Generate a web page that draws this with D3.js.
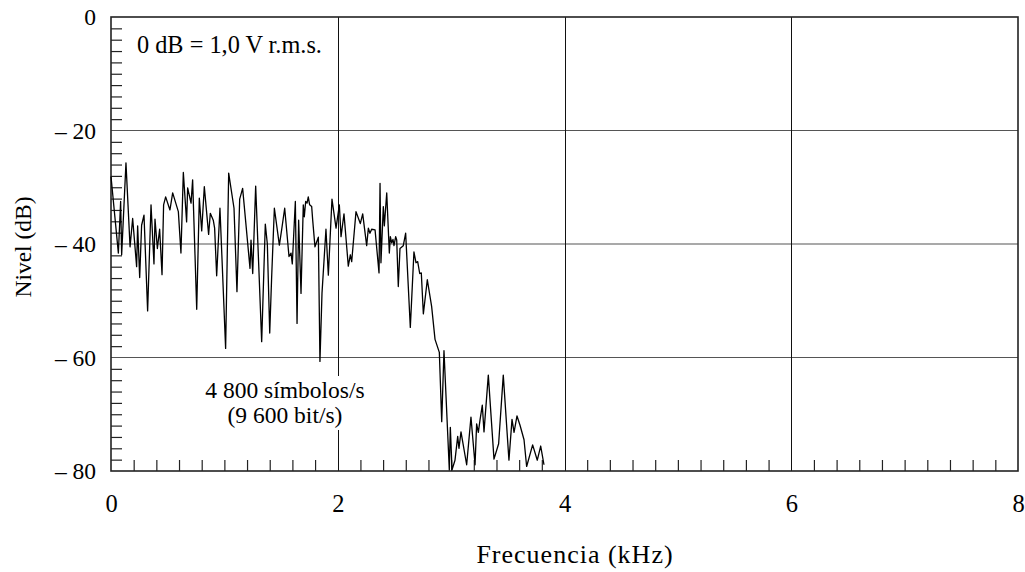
<!DOCTYPE html>
<html><head><meta charset="utf-8">
<script src="https://cdn.jsdelivr.net/npm/d3@7"></script>
<style>
html,body{margin:0;padding:0;background:#fff;}
svg text{font-family:"Liberation Serif","Times New Roman",serif !important;fill:#000;}
</style></head>
<body><svg id="c" width="1025" height="572"></svg>
<script>
const freq = [0.000,0.065,0.085,0.094,0.132,0.168,0.191,0.226,0.235,0.253,0.270,0.291,0.323,0.353,0.379,0.388,0.409,0.429,0.450,0.464,0.482,0.520,0.544,0.594,0.617,0.638,0.667,0.676,0.706,0.720,0.756,0.779,0.800,0.823,0.861,0.876,0.902,0.914,0.932,0.961,1.011,1.038,1.085,1.111,1.135,1.161,1.173,1.226,1.235,1.250,1.276,1.329,1.361,1.379,1.400,1.417,1.441,1.485,1.505,1.532,1.570,1.588,1.599,1.626,1.641,1.655,1.676,1.696,1.705,1.717,1.729,1.740,1.752,1.770,1.779,1.799,1.829,1.843,1.861,1.896,1.917,1.949,1.985,2.014,2.029,2.055,2.093,2.111,2.123,2.161,2.199,2.220,2.255,2.270,2.284,2.299,2.329,2.364,2.373,2.381,2.402,2.411,2.432,2.455,2.464,2.476,2.487,2.496,2.511,2.520,2.534,2.549,2.578,2.599,2.640,2.672,2.690,2.705,2.723,2.737,2.755,2.790,2.828,2.858,2.896,2.917,2.937,2.984,2.993,3.008,3.034,3.058,3.069,3.087,3.137,3.175,3.211,3.225,3.240,3.255,3.275,3.290,3.328,3.378,3.419,3.460,3.510,3.537,3.555,3.581,3.607,3.643,3.666,3.719,3.760,3.790,3.819];
const level = [-28.1,-41.6,-32.5,-41.9,-25.7,-40.5,-35.5,-44.0,-36.8,-45.9,-36.7,-34.9,-51.8,-33.1,-43.5,-35.6,-40.8,-37.4,-45.4,-33.1,-31.7,-34.0,-31.0,-34.3,-41.6,-27.4,-36.1,-30.1,-32.8,-28.7,-51.5,-31.9,-37.7,-29.9,-38.3,-34.6,-35.8,-37.2,-45.6,-33.7,-58.4,-27.5,-33.7,-48.4,-32.1,-30.2,-32.8,-44.3,-39.3,-45.2,-29.8,-57.2,-36.5,-40.0,-55.7,-45.8,-33.7,-40.2,-37.5,-33.7,-42.2,-41.6,-43.5,-32.5,-54.0,-35.8,-48.7,-33.1,-35.2,-32.5,-32.8,-31.7,-33.1,-33.4,-35.8,-40.5,-38.8,-60.7,-48.7,-37.4,-45.5,-32.1,-37.2,-33.1,-38.7,-34.7,-43.9,-41.9,-43.1,-34.3,-36.4,-34.7,-40.3,-37.2,-38.1,-37.4,-37.5,-45.1,-29.3,-43.3,-33.4,-36.8,-31.0,-41.6,-38.7,-39.8,-39.2,-40.3,-38.7,-39.3,-47.5,-40.8,-40.3,-38.1,-54.7,-41.4,-43.3,-43.1,-45.2,-45.1,-52.3,-46.3,-51.0,-56.8,-59.1,-71.3,-58.8,-79.8,-72.3,-79.8,-78.1,-73.9,-76.0,-73.1,-78.9,-70.5,-78.9,-71.7,-73.2,-71.0,-68.4,-73.1,-63.1,-77.9,-75.2,-63.1,-78.1,-70.9,-73.2,-70.3,-71.9,-74.5,-79.2,-75.4,-78.1,-75.6,-78.9];
const xMajorTicks = [0,2,4,6,8];
const yMajorTicks = [0,-20,-40,-60,-80];
const yTickLabels = ["0","\u2013 20","\u2013 40","\u2013 60","\u2013 80"];
const xTitle = "Frecuencia (kHz)";
const yTitle = "Nivel (dB)";
const noteRef = "0 dB = 1,0 V r.m.s.";
const noteRate = ["4 800 símbolos/s","(9 600 bit/s)"];

const svg = d3.select("#c");
const L=111, R=1018, T=17, B=471;
const x = d3.scaleLinear().domain([0,8]).range([L,R]);
const y = d3.scaleLinear().domain([-80,0]).range([B,T]);
const FS = 23.5;
const SERIF = '"Liberation Serif","Times New Roman",serif';

// grid
svg.append("g").selectAll("line").data([-20,-40,-60]).join("line")
  .attr("x1",L).attr("x2",R).attr("y1",d=>y(d)).attr("y2",d=>y(d))
  .attr("stroke","#555").attr("stroke-width",1.2);
svg.append("g").selectAll("line").data([2,4,6]).join("line")
  .attr("x1",d=>Math.round(x(d))+0.5).attr("x2",d=>Math.round(x(d))+0.5).attr("y1",T).attr("y2",B)
  .attr("stroke","#111").attr("stroke-width",1);

// minor ticks
const yMinor = d3.range(-80,0.01,2).filter(v=>v%20!==0);
svg.append("g").attr("transform",`translate(${L},0)`)
  .call(d3.axisRight(y).tickValues(yMinor).tickSize(11).tickFormat(""))
  .call(g=>g.select(".domain").remove())
  .selectAll("line").attr("stroke","#222").attr("stroke-width",1.2);
const xMinor = d3.range(0,8.001,0.2).filter(v=>Math.abs(v-Math.round(v/2)*2)>1e-6);
svg.append("g").attr("transform",`translate(0,${B})`)
  .call(d3.axisTop(x).tickValues(xMinor).tickSize(11).tickFormat(""))
  .call(g=>g.select(".domain").remove())
  .selectAll("line").attr("stroke","#222").attr("stroke-width",1.2);

// tick labels via axes
svg.append("g").attr("transform",`translate(${L},0)`)
  .call(d3.axisLeft(y).tickValues(yMajorTicks).tickSize(0).tickPadding(15)
    .tickFormat((d,i)=>yTickLabels[i]))
  .call(g=>g.select(".domain").remove())
  .attr("font-family",SERIF)
  .selectAll("text").attr("font-size",FS).style("font-family",SERIF).attr("fill","#000");
svg.append("g").attr("transform",`translate(0,${B})`)
  .call(d3.axisBottom(x).tickValues(xMajorTicks).tickSize(0).tickPadding(24).tickFormat(d3.format("d")))
  .call(g=>g.select(".domain").remove())
  .attr("font-family",SERIF)
  .selectAll("text").attr("font-size",FS+1).style("font-family",SERIF).attr("fill","#000");

// frame
svg.append("rect").attr("x",L).attr("y",T).attr("width",R-L).attr("height",B-T)
  .attr("fill","none").attr("stroke","#222").attr("stroke-width",1.6);

// signal
const pts = freq.map((f,i)=>[f,level[i]]);
svg.append("path").datum(pts)
  .attr("d",d3.line().x(d=>x(d[0])).y(d=>y(d[1])))
  .attr("fill","none").attr("stroke","#000").attr("stroke-width",1.3).attr("stroke-linejoin","round");

// titles
svg.append("text").attr("x",575).attr("y",563).attr("text-anchor","middle").attr("font-size",26)
  .attr("letter-spacing",1).style("font-family",SERIF).text(xTitle);
svg.append("text").attr("transform","translate(31,247) rotate(-90)").attr("text-anchor","middle").attr("font-size",FS)
  .style("font-family",SERIF).text(yTitle);

// notes
svg.append("text").attr("x",137).attr("y",53).attr("font-size",24.3).style("font-family",SERIF).text(noteRef);
const note = svg.append("g");
const bg = note.append("rect").attr("fill","#fff");
const t1 = note.append("text").attr("x",285).attr("y",398).attr("text-anchor","middle").attr("font-size",FS).style("font-family",SERIF).text(noteRate[0]);
const t2 = note.append("text").attr("x",285).attr("y",423).attr("text-anchor","middle").attr("font-size",FS).style("font-family",SERIF).text(noteRate[1]);
const b1 = t1.node().getBBox(), b2 = t2.node().getBBox();
const bx0 = Math.min(b1.x,b2.x)-3, bx1 = Math.max(b1.x+b1.width,b2.x+b2.width)+3;
const by0 = b1.y-1, by1 = b2.y+b2.height+2;
bg.attr("x",bx0).attr("y",by0).attr("width",bx1-bx0).attr("height",by1-by0);
</script></body></html>
